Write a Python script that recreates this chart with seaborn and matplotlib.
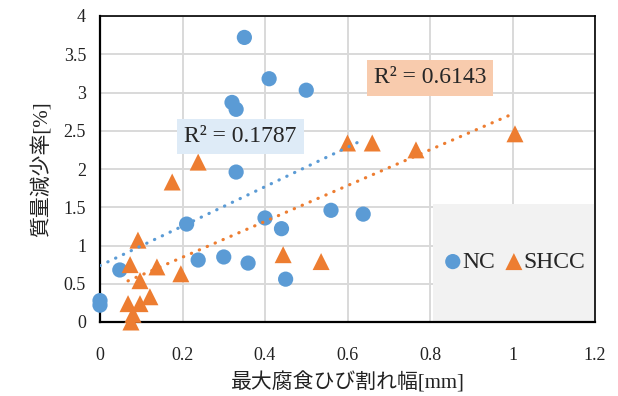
import numpy as np
import pandas as pd
import matplotlib
matplotlib.use("Agg")
import matplotlib.pyplot as plt
import seaborn as sns
from matplotlib.ticker import FuncFormatter, MultipleLocator
from matplotlib.patches import Rectangle

sns.set_theme(style="white")
plt.rcParams['font.family'] = ['Liberation Serif', 'Noto Sans CJK JP']

nc_x = [0.0, 0.0, 0.048, 0.21, 0.238, 0.30, 0.32, 0.33, 0.33, 0.35, 0.359, 0.40, 0.41, 0.44, 0.45, 0.50, 0.56, 0.638]
nc_y = [0.28, 0.22, 0.68, 1.28, 0.81, 0.85, 2.87, 2.78, 1.96, 3.72, 0.77, 1.36, 3.18, 1.22, 0.56, 3.03, 1.46, 1.41]
shcc_x = [0.068, 0.073, 0.08, 0.075, 0.092, 0.097, 0.097, 0.121, 0.138, 0.175, 0.196, 0.238, 0.444, 0.536, 0.60, 0.66, 0.766, 1.006]
shcc_y = [0.24, 0.75, 0.10, 0.0, 1.07, 0.54, 0.24, 0.33, 0.72, 1.83, 0.63, 2.09, 0.88, 0.79, 2.34, 2.34, 2.25, 2.46]
series = ["NC", "SHCC"]
r2_labels = ["R² = 0.1787", "R² = 0.6143"]
x_label = "最大腐食ひび割れ幅[mm]"
y_label = "質量減少率[%]"

blue = "#5b9bd5"
orange = "#ed7d31"

nc = pd.DataFrame({"x": nc_x, "y": nc_y})
sh = pd.DataFrame({"x": shcc_x, "y": shcc_y})

fig = plt.figure(figsize=(6.18, 3.96), dpi=100)
ax = fig.add_axes([100/618, 1-322/396, 495/618, 306/396])

ax.set_xlim(0, 1.2)
ax.set_ylim(0, 4)
ax.xaxis.set_major_locator(MultipleLocator(0.2))
ax.yaxis.set_major_locator(MultipleLocator(0.5))
fmt = FuncFormatter(lambda v, p: ("%.1f" % v).rstrip('0').rstrip('.') if v != 0 else "0")
ax.xaxis.set_major_formatter(fmt)
ax.yaxis.set_major_formatter(fmt)
ax.grid(True, color="#d9d9d9", linewidth=1.4, zorder=0)
ax.set_axisbelow(True)
for s in ax.spines.values():
    s.set_color("black")
    s.set_linewidth(1.2)
ax.spines['left'].set_linewidth(1.6)
ax.spines['bottom'].set_linewidth(1.6)
ax.tick_params(axis='both', length=0, labelsize=13, colors="#222222")
ax.tick_params(axis='x', pad=18)
ax.tick_params(axis='y', pad=10)

sns.scatterplot(data=nc, x="x", y="y", ax=ax, color=blue, marker="o", s=120,
                edgecolor="none", label=series[0], zorder=3, clip_on=False)
sns.scatterplot(data=sh, x="x", y="y", ax=ax, color=orange, marker="^", s=150,
                edgecolor="none", label=series[1], zorder=3, clip_on=False)

lk = dict(linestyle=(0, (0.1, 2.6)), linewidth=2.3, dash_capstyle="round", zorder=4)
sns.regplot(data=nc, x="x", y="y", ax=ax, scatter=False, ci=None, truncate=True,
            color=blue, line_kws=lk)
sns.regplot(data=sh, x="x", y="y", ax=ax, scatter=False, ci=None, truncate=True,
            color=orange, line_kws=lk)

ax.set_xlim(0, 1.2)
ax.set_ylim(0, 4)

ax.text(0.34, 2.43, r2_labels[0], fontsize=17, ha="center", va="center", zorder=5,
        bbox=dict(boxstyle="square,pad=0.3", facecolor="#deebf7", edgecolor="none"))
ax.text(0.80, 3.19, r2_labels[1], fontsize=17, ha="center", va="center", zorder=5,
        bbox=dict(boxstyle="square,pad=0.3", facecolor="#f8cbad", edgecolor="none"))

ax.add_patch(Rectangle((0.673, 0.0), 0.327, 0.386, transform=ax.transAxes,
                       facecolor="#f2f2f2", edgecolor="none", zorder=2))
leg = ax.legend(loc="center", bbox_to_anchor=(0.832, 0.196), ncol=2, frameon=False,
                fontsize=17, handletextpad=-0.2, columnspacing=0.2, handlelength=1.2,
                markerscale=1.0, borderpad=0.0)
leg.set_zorder(6)

ax.set_xlabel(x_label, fontsize=15, labelpad=6, color="#222222")
ax.set_ylabel(y_label, fontsize=15, labelpad=8, color="#222222")

fig.savefig("out.png", dpi=100)
